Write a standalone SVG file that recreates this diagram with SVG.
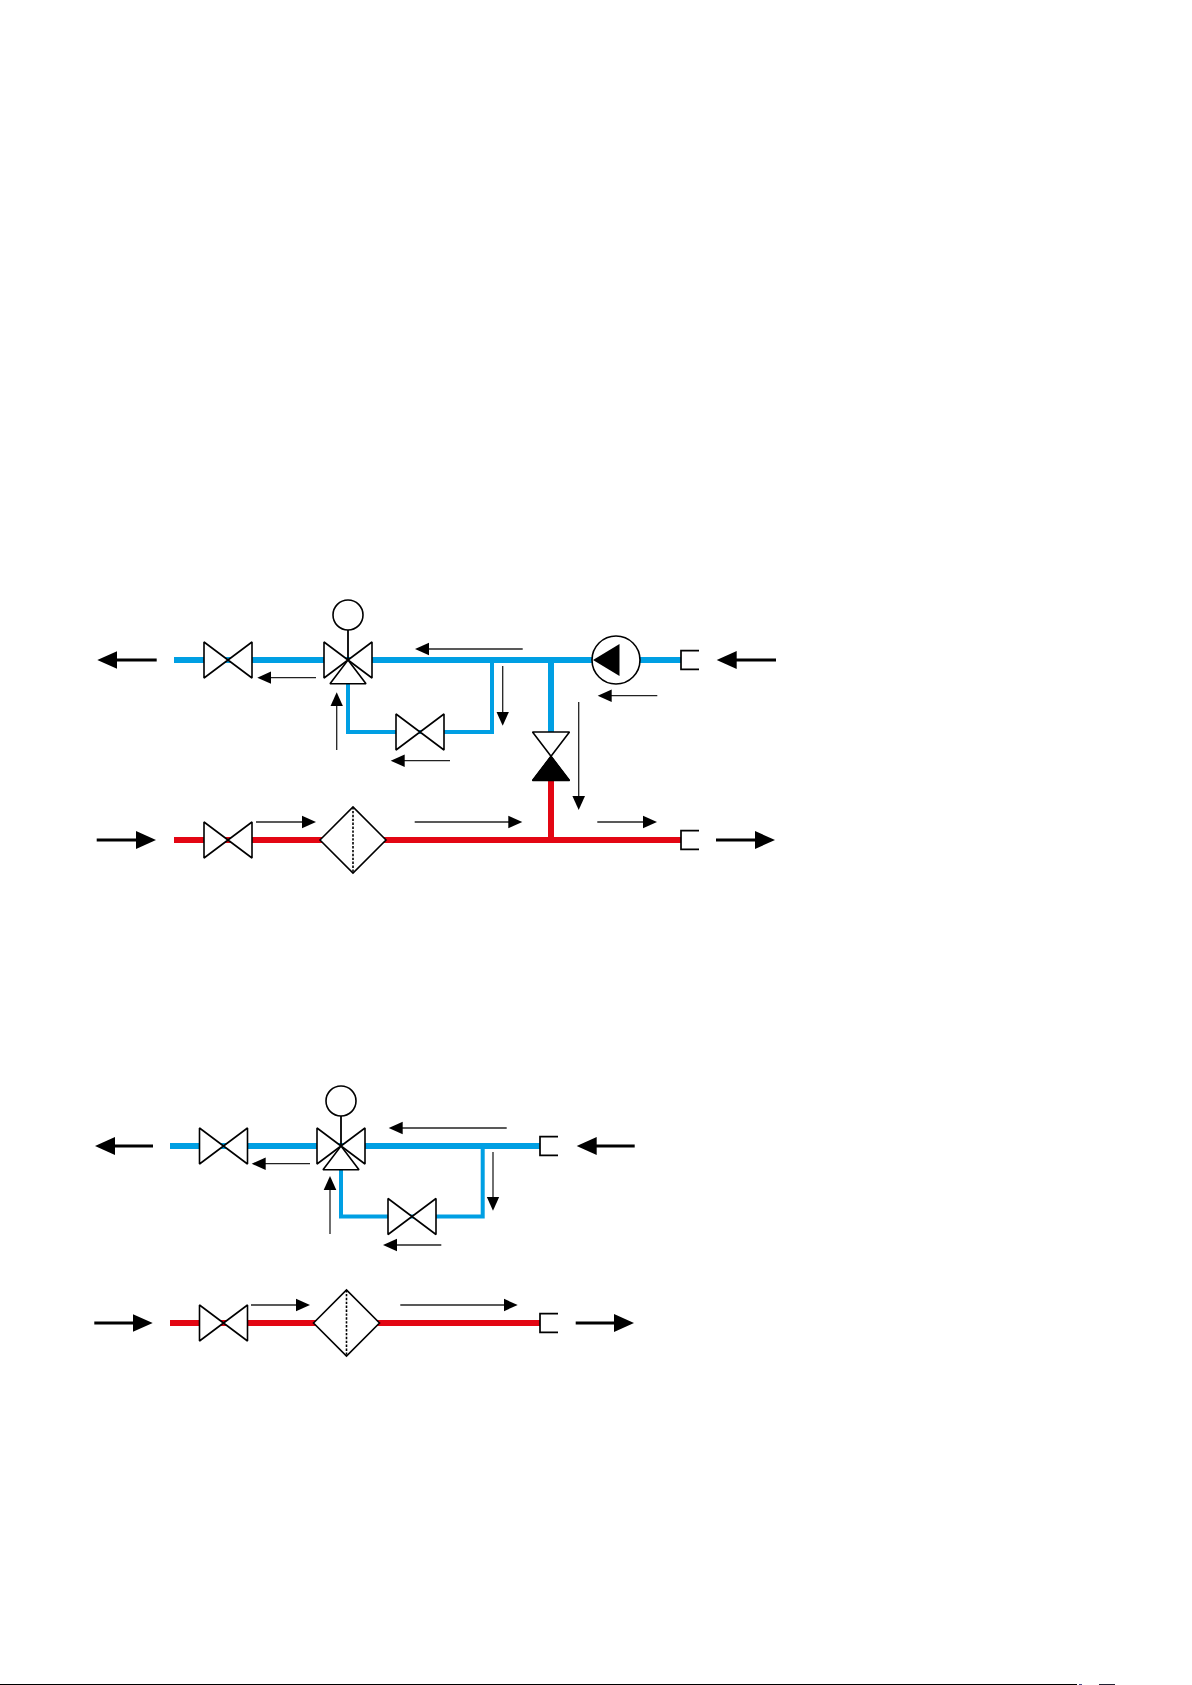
<svg xmlns="http://www.w3.org/2000/svg" width="1192" height="1685" viewBox="0 0 1192 1685">
<style>
.sym{fill:#fff;stroke:#000;stroke-width:1.6;stroke-linejoin:miter;stroke-miterlimit:2}
.blue{fill:none;stroke:#009FE3;stroke-width:6}
.blue4{fill:none;stroke:#009FE3;stroke-width:4}
.red{fill:none;stroke:#E30613;stroke-width:6}
.thin{fill:none;stroke:#222;stroke-width:1.3;marker-end:url(#ah)}
.big{fill:none;stroke:#000;stroke-width:2.8;marker-end:url(#ahb)}
.stem{stroke:#000;stroke-width:1.8;fill:none}
.dash{stroke:#000;stroke-width:1.6;stroke-dasharray:2.4 1.5;fill:none}
.cap{fill:none;stroke:#000;stroke-width:1.7}
</style>
<defs>
<marker id="ah" markerUnits="userSpaceOnUse" markerWidth="15" markerHeight="14" viewBox="0 -7 15 14" refX="2" refY="0" orient="auto"><path d="M0,-6.3 L14,0 L0,6.3 Z" fill="#000"/></marker>
<marker id="ahb" markerUnits="userSpaceOnUse" markerWidth="21" markerHeight="20" viewBox="0 -10 21 20" refX="2" refY="0" orient="auto"><path d="M0,-9 L20,0 L0,9 Z" fill="#000"/></marker>
<path id="bow" class="sym" d="M-24,-18 L24,18 L24,-18 L-24,18 Z"/>
<path id="cp" class="cap" d="M18,-9.3 H0 V9.3 H18"/>
<g id="hx"><path class="sym" d="M-33,0 L0,-33 L33,0 L0,33 Z"/><path class="dash" d="M0,-33 V33"/></g>
<g id="v3"><path class="sym" d="M-24,-18 L24,18 L24,-18 L-24,18 Z"/><path class="sym" d="M0,0 L18,23.7 H-18 Z"/><path class="stem" d="M0,0 V-30"/><circle class="sym" cx="0" cy="-45" r="15"/></g>
</defs>
<rect width="1192" height="1685" fill="#fff"/>
<g id="connectors">
<path class="blue" d="M174,660 H681"/>
<path class="blue4" d="M348,684 V732 H492 V660"/>
<path class="blue" d="M551,660 V732"/>
<path class="red" d="M174,840 H681"/>
<path class="red" d="M551,780 V840"/>
<path class="blue" d="M170,1146 H540"/>
<path class="blue4" d="M341,1169 V1216.5 H482.7 V1146"/>
<path class="red" d="M170,1323 H540"/>
<path class="big" d="M156.7,660 H115.3"/>
<path class="big" d="M96.7,840 H138"/>
<path class="big" d="M776,660 H734.7"/>
<path class="big" d="M716,840 H757"/>
<path class="thin" d="M522.7,649 H427"/>
<path class="thin" d="M316,677.7 H269.3"/>
<path class="thin" d="M336.7,750 V704.3"/>
<path class="thin" d="M450,760.7 H402.7"/>
<path class="thin" d="M256,822 H304"/>
<path class="thin" d="M414.7,822 H510.3"/>
<path class="thin" d="M597.3,822 H645"/>
<path class="thin" d="M657.3,695.7 H609.7"/>
<path class="thin" d="M502.7,666 V713.7"/>
<path class="thin" d="M578.7,702 V798"/>
<path class="big" d="M153,1146 H113"/>
<path class="big" d="M94.3,1323 H134.7"/>
<path class="big" d="M634.7,1146 H594.7"/>
<path class="big" d="M575.7,1323 H616"/>
<path class="thin" d="M506.7,1128 H400.7"/>
<path class="thin" d="M310,1163.7 H263.7"/>
<path class="thin" d="M330,1234 V1188"/>
<path class="thin" d="M441.3,1245 H395"/>
<path class="thin" d="M251,1305 H298"/>
<path class="thin" d="M400.3,1305 H505.7"/>
<path class="thin" d="M493,1152 V1198.7"/>
</g>
<g id="valve-top-1"><use href="#bow" x="228" y="660"/></g>
<g id="valve-3way-top"><use href="#v3" x="348" y="660"/></g>
<g id="valve-top-2"><use href="#bow" x="420" y="732"/></g>
<g id="valve-top-bypass"><path class="sym" d="M532.5,732 H569.5 L532.5,780.5 H569.5 Z"/><path d="M551,756 L569.5,780.5 H532.5 Z" fill="#000" stroke="#000" stroke-width="1"/></g>
<g id="pump"><circle class="sym" cx="616" cy="660" r="24"/><path d="M593,660 L619.5,644 V676 Z" fill="#000"/></g>
<g id="cap-top-1"><use href="#cp" x="681" y="660"/></g>
<g id="cap-top-2"><use href="#cp" x="681" y="840"/></g>
<g id="valve-top-3"><use href="#bow" x="228" y="840"/></g>
<g id="hx-top"><use href="#hx" x="353" y="840"/></g>
<g id="valve-bot-1"><use href="#bow" x="223.5" y="1146"/></g>
<g id="valve-3way-bot"><use href="#v3" x="341" y="1146"/></g>
<g id="valve-bot-2"><use href="#bow" x="412" y="1216.5"/></g>
<g id="valve-bot-3"><use href="#bow" x="223.5" y="1323"/></g>
<g id="hx-bot"><use href="#hx" x="346.5" y="1323"/></g>
<g id="cap-bot-1"><use href="#cp" x="540" y="1146"/></g>
<g id="cap-bot-2"><use href="#cp" x="540" y="1323"/></g>
<rect x="0" y="1684" width="1077" height="1" fill="#000"/>
<rect x="1079" y="1684" width="3" height="1" fill="#4a4a8a"/>
<rect x="1099" y="1684" width="16" height="1" fill="#223"/>
</svg>
